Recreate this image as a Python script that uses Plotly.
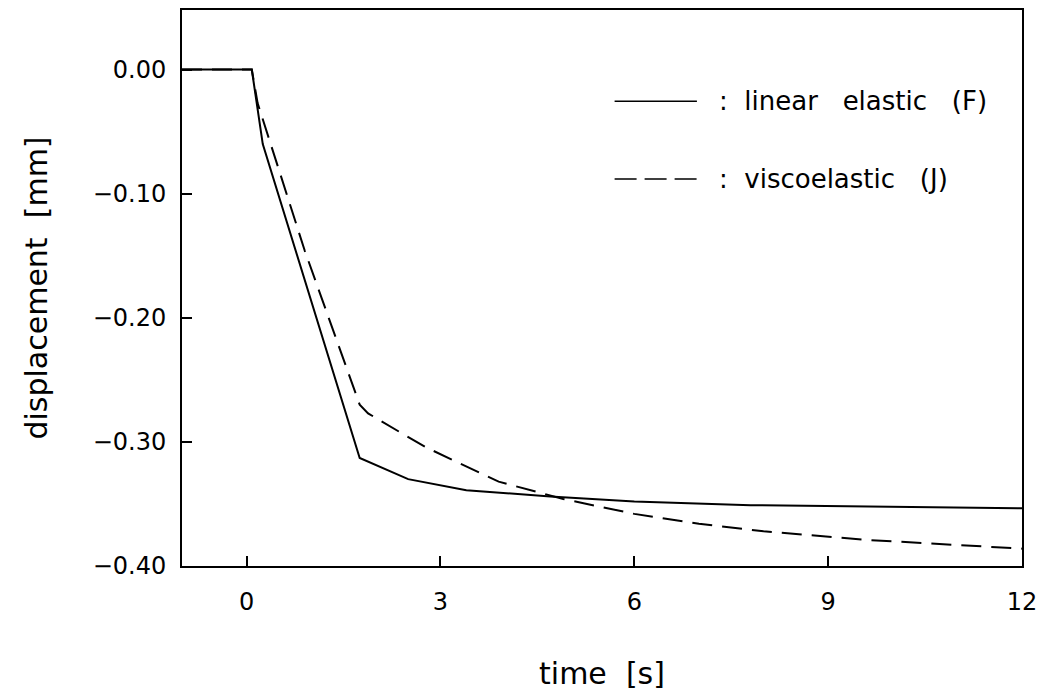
import plotly.graph_objects as go

# Data
t_elastic = [-1.0, 0.08, 0.25, 1.75, 2.5, 3.4, 4.7, 6.0, 7.8, 12.0]
d_elastic = [0.0, 0.0, -0.060, -0.313, -0.330, -0.339, -0.344, -0.348, -0.351, -0.3535]

t_visco = [-1.0, 0.08, 0.17, 0.9, 1.75, 1.88, 2.4, 2.8, 3.9, 4.9, 6.0, 7.0, 8.0, 9.6, 12.0]
d_visco = [0.0, 0.0, -0.027, -0.146, -0.270, -0.277, -0.293, -0.305, -0.332, -0.346,
           -0.358, -0.366, -0.372, -0.379, -0.386]

x_ticks = [0, 3, 6, 9, 12]
y_ticks = [0.0, -0.1, -0.2, -0.3, -0.4]
y_tick_labels = ["0.00", "\u22120.10", "\u22120.20", "\u22120.30", "\u22120.40"]

legend_labels = [":  linear   elastic   (F)", ":  viscoelastic   (J)"]

FONT = "DejaVu Sans"

fig = go.Figure()
fig.add_trace(go.Scatter(x=t_elastic, y=d_elastic, mode="lines",
                         line=dict(color="black", width=2), showlegend=False))
fig.add_trace(go.Scatter(x=t_visco, y=d_visco, mode="lines",
                         line=dict(color="black", width=2, dash="20px,10px"), showlegend=False))

# legend drawn manually (line sample + text)
legend_y = [0.836, 0.696]
legend_dash = ["solid", "22px,8px"]
for yy, dsh, lab in zip(legend_y, legend_dash, legend_labels):
    fig.add_shape(type="line", xref="paper", yref="paper",
                  x0=0.515, x1=0.613, y0=yy, y1=yy,
                  line=dict(color="black", width=1.5, dash=dsh))
    fig.add_annotation(xref="paper", yref="paper", x=0.637, y=yy, text=lab,
                       showarrow=False, xanchor="left", yanchor="middle",
                       font=dict(family=FONT, size=26, color="black"))

axis_common = dict(showline=True, linecolor="black", linewidth=2, mirror=True,
                   ticks="inside", ticklen=10, tickwidth=2, tickcolor="black",
                   showgrid=False, zeroline=False, automargin=False,
                   tickfont=dict(family=FONT, size=24, color="black"))

fig.update_xaxes(range=[-1.0, 12.0], tickvals=x_ticks, ticklabelstandoff=13,
                 title=dict(text="time  [s]", font=dict(family=FONT, size=30, color="black"),
                            standoff=48),
                 **axis_common)
fig.update_yaxes(range=[-0.40, 0.048], tickvals=y_ticks, ticktext=y_tick_labels,
                 ticklabelstandoff=9,
                 title=dict(text="displacement  [mm]", font=dict(family=FONT, size=30, color="black"),
                            standoff=36),
                 **axis_common)

fig.update_layout(width=1043, height=694, margin=dict(l=182, r=21, t=10, b=128),
                  paper_bgcolor="white", plot_bgcolor="white")

fig.write_html("out.html")
